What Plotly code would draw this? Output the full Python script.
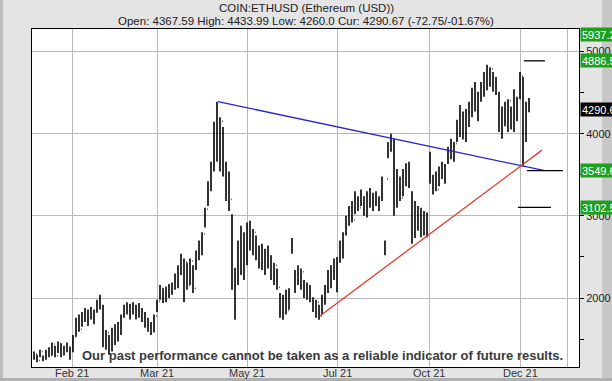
import plotly.graph_objects as go

# ---------------- data ----------------
highs = [1350,1310,1370,1300,1370,1400,1460,1420,1470,1450,1420,1460,1410,
         1550,1760,1800,1830,1880,1860,1890,1860,1980,2040,
         1920,1610,1550,1640,1680,1710,1800,1920,1950,1930,1950,1920,1940,1880,1830,1760,1710,1800,1980,
         2160,2120,2140,2170,2190,2300,2400,2540,2480,2430,2480,2400,2580,2700,2800,
         3100,3420,3660,4145,4390,4200,4080,3660,3540,
         3020,2370,2700,2880,2800,2920,2940,2840,2760,2640,2660,2600,2640,2520,2430,2360,
         2060,2040,2100,2120,2730,2340,2400,2360,2220,2190,2160,2010,1980,1920,2040,2160,
         2340,2400,2480,2500,2700,2800,3000,3120,3180,3300,3240,3320,3240,3300,3340,3280,3300,3240,3480,
         2700,3900,4000,3940,3570,3480,3570,3640,3660,3300,3180,3120,
         3100,3060,3040,3780,3500,3540,3600,3660,3630,3840,3940,3900,4170,4350,4270,4300,4390,
         4560,4630,4510,4630,4750,4840,4810,4750,4690,4510,4330,4390,4420,4330,4540,4450,4750,4690,4390,4433.99]
lows = [1250,1220,1280,1230,1250,1280,1300,1280,1330,1280,1300,1340,1250,
        1340,1530,1590,1650,1710,1660,1740,1680,1820,1860,
        1400,1370,1310,1350,1430,1470,1550,1760,1800,1740,1800,1740,1760,1710,1640,1590,1550,1580,1830,
        1980,1940,1950,2000,2040,2100,2120,2280,1950,2100,2160,2060,2340,2460,2520,
        2860,3120,3300,3540,3660,3540,3480,3180,3060,
        2100,1735,2160,2280,2220,2400,2580,2520,2460,2360,2340,2280,2360,2220,2160,2100,
        1760,1735,1800,1860,2540,2060,2160,2100,2000,1980,1950,1830,1760,1735,1800,1920,
        2060,2120,2220,2070,2430,2480,2760,2880,2920,3020,3060,3120,3000,2980,3100,3060,3120,3060,3180,
        2520,3700,3780,3000,3100,3180,3240,3360,3340,2660,2730,2820,
        2740,2760,2740,3390,3260,3300,3360,3450,3390,3630,3690,3660,3900,3960,3930,3900,4080,
        4200,4270,4150,4390,4450,4530,4570,4510,4470,4020,3940,4090,4020,4050,4020,4150,4420,3600,3900,4260.0]
closes = [1320,1240,1350,1260,1350,1300,1440,1300,1450,1320,1400,1360,1380,
          1530,1740,1620,1800,1740,1840,1760,1840,1950,1900,
          1450,1580,1400,1600,1480,1690,1780,1880,1820,1910,1830,1900,1780,1730,1660,1610,1690,1780,1960,
          2120,1980,2110,2050,2170,2280,2380,2300,2440,2150,2450,2120,2560,2680,2780,
          3080,3400,3640,4100,3900,4150,3600,3500,3200,
          2400,2300,2650,2400,2750,2880,2620,2800,2500,2600,2380,2560,2400,2250,2400,2130,
          1800,2000,1850,2080,2560,2300,2200,2320,2050,2150,1980,1860,1950,1780,2010,2130,
          2320,2150,2460,2450,2680,2520,2980,3100,2950,3280,3100,3300,3020,3260,3120,3250,3150,3200,3450,
          2550,3880,3800,3350,3500,3220,3540,3400,3620,2800,3150,2850,
          3050,2800,3000,3420,3450,3320,3580,3480,3600,3820,3720,3880,4150,4000,4250,3950,4370,
          4540,4300,4480,4600,4720,4560,4790,4540,4650,4080,4300,4120,4400,4080,4520,4200,4700,4100,4367.59,4290.67]
opens = [1300,1320,1240,1350,1260,1350,1300,1440,1300,1450,1320,1400,1360,
         1380,1530,1740,1620,1800,1740,1840,1760,1840,1950,
         1900,1450,1580,1400,1600,1480,1690,1780,1880,1820,1910,1830,1900,1780,1730,1660,1610,1690,1780,
         1960,2120,1980,2110,2050,2170,2280,2380,2300,2440,2150,2450,2120,2560,2680,
         2780,3080,3400,3640,4100,3900,4150,3600,3500,
         3200,2200,2300,2650,2400,2750,2880,2620,2800,2500,2600,2380,2560,2400,2250,2400,
         2130,1800,2000,1850,2600,2080,2300,2200,2320,2050,2150,1980,1860,1950,1780,2010,
         2130,2320,2250,2460,2450,2680,2800,2980,3100,2950,3200,3100,3200,3020,3260,3120,3250,3150,3200,
         2650,3450,3880,3800,3350,3400,3220,3540,3400,3200,2800,3050,
         2850,3050,2800,3450,3420,3450,3320,3580,3480,3650,3820,3720,3880,4150,4000,4250,4100,
         4370,4540,4300,4480,4600,4720,4620,4790,4540,4500,4080,4300,4120,4400,4080,4400,4500,4700,4100,4367.59]

x_tick_labels = ["Feb 21", "Mar 21", "May 21", "Jul 21", "Oct 21", "Dec 21", ""]
y_tick_values = [2000, 3000, 4000, 5000]
y_minor_values = [1500, 2500, 3500, 4500]

# trend lines (bar index, price)
falling_trend_x = [61.3, 170.3]
falling_trend_y = [4390, 3549.6]
rising_trend_x = [95.3, 169.3]
rising_trend_y = [1781, 3800]

# target levels
level_values = [4886.5, 3549.6, 3102.5]
level_from = [163.3, 164.3, 161.3]
level_to = [170.3, 176.3, 172.3]
upper_target = 5937.2
current_price = 4290.67

title_text = "COIN:ETHUSD (Ethereum (USD))"
subtitle_text = "Open: 4367.59 High: 4433.99 Low: 4260.0 Cur: 4290.67 (-72.75/-01.67%)"
disclaimer = "Our past performance cannot be taken as a reliable indicator of future results."

bar_idx = list(range(len(highs)))

# ---------------- figure ----------------
W, H = 612, 381
ML, MR, MT, MB = 32, 33, 29, 14
PW = W - ML - MR
PH = H - MT - MB

def px_x(X):
    return (X - ML) / PW

def px_y(Y):
    return (H - MB - Y) / PH

fig = go.Figure()

fig.add_trace(go.Ohlc(
    x=bar_idx, open=opens, high=highs, low=lows, close=closes,
    increasing=dict(line=dict(color="black", width=1.6)),
    decreasing=dict(line=dict(color="black", width=1.6)),
    tickwidth=0.2, hoverinfo="skip", showlegend=False))

fig.add_trace(go.Scatter(x=falling_trend_x, y=falling_trend_y, mode="lines",
                         line=dict(color="#2626c8", width=1.3), hoverinfo="skip", showlegend=False))
fig.add_trace(go.Scatter(x=rising_trend_x, y=rising_trend_y, mode="lines",
                         line=dict(color="#e23a2a", width=1.3), hoverinfo="skip", showlegend=False))

for v, a, b in zip(level_values, level_from, level_to):
    fig.add_trace(go.Scatter(x=[a, b], y=[v, v], mode="lines",
                             line=dict(color="black", width=1.3), hoverinfo="skip", showlegend=False))

# tick positions for month gridlines (bar index)
x_tick_pos = [12.67, 41.0, 71.0, 101.33, 131.67, 162.0, 177.67]

fig.update_layout(
    width=W, height=H, autosize=False,
    margin=dict(l=ML, r=MR, t=MT, b=MB, pad=0, autoexpand=False),
    paper_bgcolor="#e4e4e4", plot_bgcolor="white",
    font=dict(family="Liberation Sans, Arial, sans-serif", size=11, color="#222"),
    showlegend=False,
    xaxis=dict(range=[-0.667, 181.667], rangeslider=dict(visible=False), automargin=False,
               tickmode="array", tickvals=x_tick_pos, ticktext=[""] * len(x_tick_pos),
               showticklabels=False,
               showgrid=True, gridcolor="#b8b8b8", gridwidth=1,
               showline=True, linecolor="black", linewidth=1, mirror=True,
               ticks="", zeroline=False),
    yaxis=dict(range=[1161, 5274], side="right", automargin=False,
               tickmode="array", tickvals=y_tick_values,
               showgrid=True, gridcolor="#b8b8b8", gridwidth=1,
               showline=True, linecolor="black", linewidth=1, mirror=True,
               ticks="outside", ticklen=4, tickcolor="black", zeroline=False,
               tickfont=dict(size=11, color="#222"),
               minor=dict(tickmode="array", tickvals=y_minor_values, ticks="outside",
                          ticklen=4, tickcolor="black", showgrid=False)),
)

# x-axis month labels
for pos, lab in zip(x_tick_pos, x_tick_labels):
    if lab:
        fig.add_annotation(text=lab, xref="x", yref="paper", x=pos, y=px_y(373),
                           showarrow=False, xanchor="center", yanchor="middle",
                           font=dict(size=11, color="#333"))

# frame shading
fig.add_shape(type="rect", xref="paper", yref="paper",
              x0=px_x(602), x1=px_x(614), y0=px_y(382), y1=px_y(-1),
              fillcolor="#c8c8c8", line=dict(width=0), layer="below")
fig.add_shape(type="rect", xref="paper", yref="paper",
              x0=px_x(-1), x1=px_x(3), y0=px_y(382), y1=px_y(-1),
              fillcolor="#bdbdbd", line=dict(width=0), layer="below")
fig.add_shape(type="rect", xref="paper", yref="paper",
              x0=px_x(-1), x1=px_x(614), y0=px_y(382), y1=px_y(378),
              fillcolor="#b0b0b0", line=dict(width=0), layer="below")

# titles
fig.add_annotation(text=title_text, xref="paper", yref="paper", x=px_x(306), y=px_y(8),
                   showarrow=False, xanchor="center", yanchor="middle",
                   font=dict(size=11.5, color="#222"))
fig.add_annotation(text=subtitle_text, xref="paper", yref="paper", x=px_x(306), y=px_y(21),
                   showarrow=False, xanchor="center", yanchor="middle",
                   font=dict(size=11.5, color="#222"))

# disclaimer
fig.add_annotation(text="<b>" + disclaimer + "</b>", xref="paper", yref="paper",
                   x=px_x(322), y=px_y(355), showarrow=False, xanchor="center", yanchor="middle",
                   font=dict(family="Liberation Sans, Arial", size=13, color="#3a3a3a"))

# right side price boxes
def price_box(text, y, yref, bg):
    fig.add_annotation(text=text, xref="paper", yref=yref, x=px_x(580), y=y,
                       showarrow=False, xanchor="left", yanchor="middle", align="left",
                       bgcolor=bg, borderpad=1, width=50, height=11,
                       font=dict(size=11, color="white"))

price_box(f"{upper_target}", px_y(35), "paper", "#1ea01e")
for v in level_values:
    price_box(f"{v}", v, "y", "#1ea01e")
price_box(f"{current_price}", current_price, "y", "black")

fig.write_html("out.html", config={"responsive": False, "displayModeBar": False},
               default_width="612px", default_height="381px",
               post_script="document.body.style.margin='0';document.body.style.padding='0';"
                           "document.documentElement.style.overflow='hidden';")
